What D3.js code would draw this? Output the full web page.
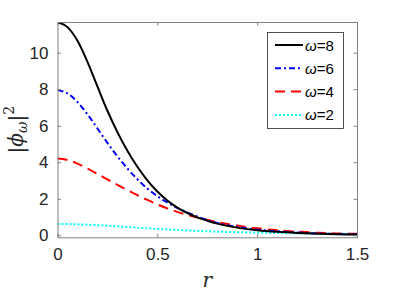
<!DOCTYPE html>
<html lang="en">
<head>
<meta charset="UTF-8">
<script src="https://d3js.org/d3.v7.min.js"></script>
<style>
  body { margin: 0; background: #fff; }
  text { font-family: "Liberation Sans", Arial, sans-serif; }
</style>
</head>
<body>
<svg width="395" height="296" id="chart"></svg>
<script>
// r grid and |phi_omega|^2
const rValues = [0, 0.05, 0.1, 0.15, 0.2, 0.25, 0.3, 0.35, 0.4, 0.45, 0.5, 0.55, 0.6, 0.65, 0.7, 0.75, 0.8, 0.9, 1.0, 1.1, 1.2, 1.3, 1.4, 1.5];
const omega8 = [11.65, 11.40, 10.65, 9.50, 8.15, 6.82, 5.65, 4.63, 3.75, 3.01, 2.40, 1.91, 1.52, 1.22, 0.98, 0.80, 0.64, 0.42, 0.28, 0.19, 0.13, 0.09, 0.06, 0.04];
const omega6 = [7.95, 7.775, 7.30, 6.625, 5.85, 5.06, 4.32, 3.66, 3.07, 2.56, 2.14, 1.80, 1.50, 1.25, 1.03, 0.84, 0.68, 0.46, 0.31, 0.22, 0.15, 0.10, 0.07, 0.05];
const omega4 = [4.2, 4.125, 3.925, 3.655, 3.36, 3.06, 2.76, 2.47, 2.195, 1.935, 1.695, 1.475, 1.285, 1.12, 0.97, 0.84, 0.72, 0.53, 0.38, 0.28, 0.2, 0.14, 0.1, 0.08];
const omega2 = [0.62, 0.615, 0.60, 0.58, 0.555, 0.525, 0.49, 0.455, 0.42, 0.385, 0.35, 0.32, 0.29, 0.265, 0.24, 0.22, 0.2, 0.17, 0.145, 0.125, 0.11, 0.095, 0.085, 0.075];
const xTicks = [0, 0.5, 1, 1.5];
const yTicks = [0, 2, 4, 6, 8, 10];
const seriesLabels = ["8", "6", "4", "2"];

const series = [
  { label: seriesLabels[0], values: omega8, color: "#000000", dash: null },
  { label: seriesLabels[1], values: omega6, color: "#0000ff", dash: "6,3,2,3" },
  { label: seriesLabels[2], values: omega4, color: "#ff0000", dash: "10,6" },
  { label: seriesLabels[3], values: omega2, color: "#00ffff", dash: "2,2" }
];

const svg = d3.select("#chart");
const margin = { top: 22, left: 57.5, right: 38, bottom: 58.7 };
const width = 395 - margin.left - margin.right;
const height = 296 - margin.top - margin.bottom;
const axisColor = "#808080";
const textColor = "#262626";

const x = d3.scaleLinear().domain([0, 1.5]).range([0, width]);
const y = d3.scaleLinear().domain([-0.11, 11.68]).range([height, 0]);

const g = svg.append("g").attr("transform", "translate(" + margin.left + "," + margin.top + ")");

g.append("clipPath").attr("id", "clip")
  .append("rect").attr("width", width).attr("height", height);

// curves
const line = d3.line()
  .x((d, i) => x(rValues[i]))
  .y(d => y(d))
  .curve(d3.curveMonotoneX);

// draw the smallest first so the black curve ends on top
series.slice().reverse().forEach(s => {
  g.append("path")
    .attr("clip-path", "url(#clip)")
    .attr("d", line(s.values))
    .attr("fill", "none")
    .attr("stroke", s.color)
    .attr("stroke-width", 2)
    .attr("stroke-dasharray", s.dash);
});

// axes: inside ticks on all four sides, box on
const tickLen = 3.5;
const axBottom = g.append("g").attr("transform", "translate(0," + height + ")")
  .call(d3.axisBottom(x).tickValues(xTicks).tickSizeInner(-tickLen).tickSizeOuter(0).tickPadding(10).tickFormat(d3.format("")));
const axLeft = g.append("g")
  .call(d3.axisLeft(y).tickValues(yTicks).tickSizeInner(-tickLen).tickSizeOuter(0).tickPadding(9));
const axTop = g.append("g")
  .call(d3.axisTop(x).tickValues(xTicks).tickSizeInner(-tickLen).tickSizeOuter(0).tickFormat(""));
const axRight = g.append("g").attr("transform", "translate(" + width + ",0)")
  .call(d3.axisRight(y).tickValues(yTicks).tickSizeInner(-tickLen).tickSizeOuter(0).tickFormat(""));

[axBottom, axLeft, axTop, axRight].forEach(a => {
  a.select(".domain").attr("stroke", axisColor).attr("stroke-width", 1);
  a.selectAll(".tick line").attr("stroke", axisColor);
  a.selectAll("text").attr("fill", textColor).style("font-size", "17px")
    .style("font-family", "'Liberation Sans', Arial, sans-serif");
});
axBottom.selectAll("text").attr("dy", "0.72em");

// axis labels
svg.append("text")
  .attr("x", margin.left + width / 2)
  .attr("y", 287)
  .attr("text-anchor", "middle")
  .style("font-family", "'DejaVu Serif', serif")
  .style("font-style", "italic")
  .style("font-size", "20px")
  .attr("fill", textColor)
  .text("r");

const yl = svg.append("text")
  .attr("transform", "translate(23," + (margin.top + height / 2) + ") rotate(-90)")
  .attr("text-anchor", "middle")
  .style("font-family", "'DejaVu Serif', serif")
  .style("font-size", "20px")
  .attr("fill", textColor);
yl.append("tspan").text("|");
yl.append("tspan").style("font-style", "italic").text("ϕ");
yl.append("tspan").style("font-style", "italic").style("font-size", "14px").attr("dy", "4").text("ω");
yl.append("tspan").attr("dy", "-4").text("|");
yl.append("tspan").style("font-size", "14px").attr("dy", "-9").text("2");

// legend
const lg = svg.append("g").attr("transform", "translate(267.5,32.5)");
lg.append("rect").attr("width", 76).attr("height", 96)
  .attr("fill", "#fff").attr("stroke", "#262626").attr("stroke-width", 0.8);
series.forEach((s, i) => {
  const yy = 12.5 + i * 23.3;
  lg.append("line")
    .attr("x1", 7.5).attr("x2", 35.5).attr("y1", yy).attr("y2", yy)
    .attr("stroke", s.color).attr("stroke-width", 2)
    .attr("stroke-dasharray", s.dash);
  const t = lg.append("text").attr("x", 37.5).attr("y", yy + 5.5)
    .style("font-size", "15px").attr("fill", "#000");
  t.append("tspan").style("font-style", "italic").text("ω");
  t.append("tspan").text("=" + s.label);
});
</script>
</body>
</html>
